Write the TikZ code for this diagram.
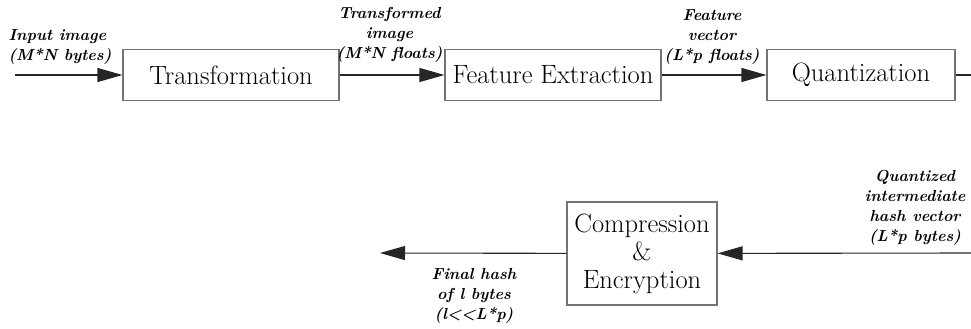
\documentclass[tikz,border=0pt]{standalone}
\usetikzlibrary{arrows.meta}

\begin{document}
\begin{tikzpicture}[
    x=1pt, y=-1pt,
    block/.style={draw=gray!90!black, line width=1.1pt, minimum height=51pt, inner sep=0pt, align=center, font=\fontsize{26.5}{28}\selectfont},
    lbl/.style={align=center, inner sep=0pt, font=\fontsize{16}{20}\selectfont\bfseries\itshape},
    flow/.style={draw=black!85, line width=1.1pt, -{Triangle[length=25pt, width=14pt]}}
]
    \useasboundingbox (0,0) rectangle (971,329);

    % 1. Top row
    \node[block, minimum width=216pt] (trans) at (231, 75) {Transformation};
    \node[block, minimum width=216pt] (feat) at (553, 75) {Feature Extraction};
    \node[block, minimum width=188pt] (quant) at (861, 75) {Quantization};

    % 2. Bottom box
    \node[block, minimum width=150pt, minimum height=103pt] (comp) at (642, 253.5) {Compression\\\&\\Encryption};

    % Free ends
    \coordinate (in) at (15, 75);
    \coordinate (qout) at (971, 75);
    \coordinate (qin) at (971, 253);
    \coordinate (out) at (380, 253);

    % Labels
    \node[lbl, align=left] (inlbl) at (60, 47) {Input image\\(M*N bytes)};
    \node[lbl] (translbl) at (389.5, 35) {Transformed\\image\\(M*N floats)};
    \node[lbl] (featlbl) at (712, 37) {Feature\\vector\\(L*p floats)};
    \node[lbl] (quantlbl) at (915, 208) {Quantized\\intermediate\\hash vector\\(L*p bytes)};
    \node[lbl] (outlbl) at (474, 296) {Final hash\\of l bytes\\(l<\kern0pt<L*p)};

    % Arrows
    \draw[flow] (in) -- (trans);
    \draw[flow] (trans) -- (feat);
    \draw[flow] (feat) -- (quant);
    \draw[draw=black!85, line width=1.1pt] (quant) -- (qout);
    \draw[flow] (qin) -- (comp);
    \draw[flow] (comp) -- (out);

\end{tikzpicture}
\end{document}
